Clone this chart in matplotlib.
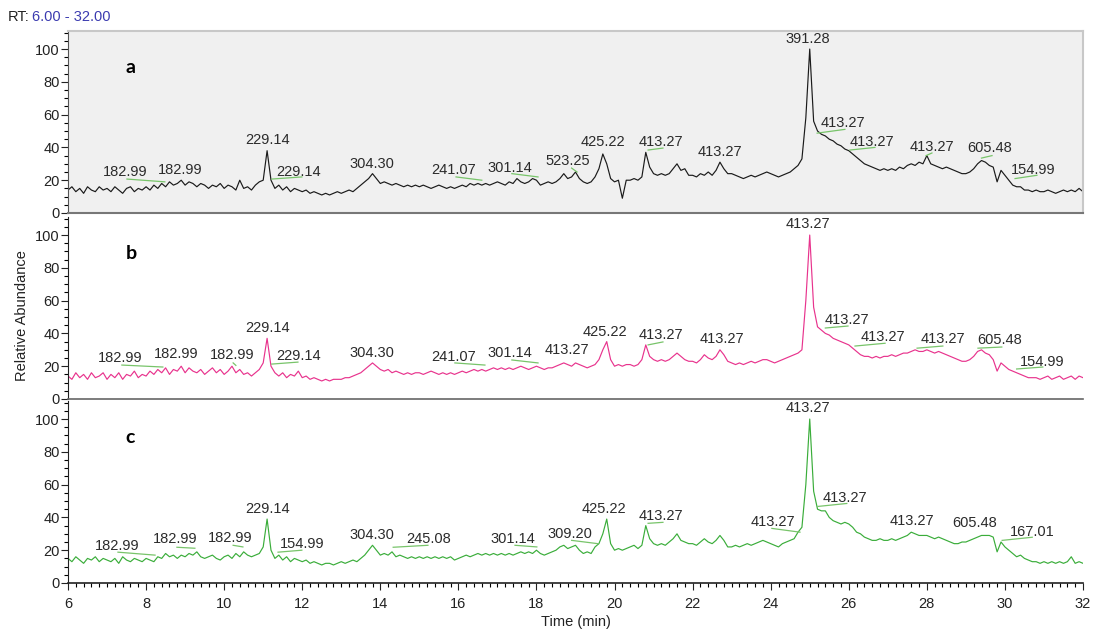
import numpy as np
import matplotlib
matplotlib.use('Agg')
import matplotlib.pyplot as plt
from matplotlib.ticker import MultipleLocator

plt.rcParams['font.family'] = ['Liberation Sans', 'DejaVu Sans']

# retention time grid, 0.1 min steps from 6 to 32
rt = np.round(np.arange(6.0, 32.05, 0.1), 1)

# relative abundance read every 0.1 min (one row = one minute)
trace_a = [
    14, 16, 13, 15, 12, 16, 14, 13, 16, 14,
    15, 13, 16, 14, 12, 15, 16, 13, 15, 14,
    16, 14, 17, 15, 18, 16, 19, 17, 18, 20,
    17, 19, 18, 16, 18, 17, 15, 17, 16, 18,
    15, 17, 16, 14, 20, 15, 16, 14, 17, 19,
    20, 38, 20, 15, 17, 14, 16, 13, 15, 14,
    13, 14, 12, 13, 12, 11, 12, 11, 12, 13,
    12, 13, 14, 13, 15, 17, 19, 21, 24, 21,
    18, 19, 18, 17, 18, 17, 16, 17, 16, 17,
    16, 17, 16, 15, 16, 17, 16, 15, 16, 15,
    16, 17, 16, 18, 17, 18, 17, 18, 17, 18,
    19, 18, 17, 19, 18, 21, 19, 18, 19, 21,
    20, 17, 18, 19, 18, 19, 21, 24, 21, 22,
    25, 21, 19, 18, 19, 22, 27, 36, 30, 21,
    19, 20, 9, 20, 20, 21, 20, 22, 37, 28,
    24, 23, 24, 23, 24, 27, 30, 26, 27, 23,
    23, 22, 24, 23, 25, 23, 26, 31, 27, 24,
    24, 23, 22, 21, 22, 23, 22, 23, 24, 25,
    24, 23, 22, 23, 24, 25, 27, 29, 33, 58,
    100, 56, 50, 48, 47, 45, 44, 42, 41, 39,
    38, 36, 34, 32, 30, 29, 28, 27, 26, 27,
    26, 27, 26, 28, 27, 29, 30, 29, 31, 30,
    35, 30, 29, 28, 27, 28, 27, 26, 25, 24,
    24, 25, 27, 30, 32, 31, 29, 28, 19, 26,
    23, 20, 17, 16, 16, 14, 14, 13, 14, 13,
    13, 14, 13, 12, 13, 14, 13, 14, 13, 15,
    13,
]
trace_b = [
    14, 12, 16, 13, 15, 12, 16, 13, 14, 16,
    12, 15, 13, 16, 12, 15, 14, 17, 13, 15,
    14, 17, 15, 18, 16, 19, 15, 18, 17, 20,
    16, 19, 17, 16, 18, 15, 17, 19, 16, 18,
    15, 17, 20, 16, 18, 15, 16, 14, 16, 18,
    22, 37, 20, 16, 14, 16, 13, 15, 14, 17,
    13, 14, 12, 13, 12, 11, 12, 11, 12, 12,
    12, 13, 13, 14, 15, 16, 18, 20, 22, 20,
    18, 17, 18, 16, 17, 16, 15, 16, 15, 16,
    16, 15, 16, 17, 16, 15, 16, 15, 16, 15,
    16, 17, 16, 17, 18, 17, 18, 17, 18, 19,
    18, 19, 18, 19, 18, 19, 20, 19, 18, 19,
    20, 19, 18, 19, 19, 20, 21, 22, 21, 20,
    22, 21, 20, 19, 20, 21, 24, 30, 35, 24,
    20, 21, 20, 21, 21, 20, 21, 24, 33, 26,
    24, 23, 24, 23, 24, 26, 28, 26, 24, 23,
    23, 22, 24, 27, 25, 24, 26, 30, 27, 23,
    22, 21, 22, 21, 22, 23, 22, 23, 24, 24,
    23, 22, 23, 24, 25, 26, 27, 28, 30, 60,
    100, 56, 44, 42, 40, 39, 37, 36, 35, 34,
    33, 31, 29, 27, 26, 26, 25, 26, 25, 26,
    26, 27, 26, 27, 28, 28, 29, 30, 29, 29,
    30, 29, 28, 29, 28, 27, 26, 25, 24, 23,
    23, 24, 26, 29, 30, 28, 27, 24, 17, 22,
    20, 18, 17, 16, 15, 14, 13, 13, 13, 12,
    13, 14, 12, 13, 14, 12, 13, 14, 12, 14,
    13,
]
trace_c = [
    15, 13, 16, 14, 12, 15, 14, 16, 13, 15,
    14, 13, 15, 12, 16, 14, 13, 15, 14, 13,
    15, 14, 13, 16, 15, 18, 16, 17, 15, 17,
    16, 18, 17, 19, 16, 15, 16, 17, 15, 14,
    16, 17, 15, 18, 16, 19, 17, 16, 17, 18,
    22, 39, 20, 15, 17, 14, 16, 13, 15, 14,
    13, 14, 12, 13, 12, 11, 12, 12, 11, 12,
    13, 12, 13, 14, 13, 15, 17, 20, 23, 20,
    17, 18, 17, 19, 16, 17, 16, 15, 16, 15,
    16, 15, 16, 15, 16, 15, 16, 15, 16, 14,
    15, 16, 17, 16, 17, 18, 17, 18, 17, 18,
    17, 18, 17, 18, 17, 18, 19, 18, 19, 18,
    20, 18, 17, 18, 19, 20, 22, 23, 21, 22,
    23, 20, 18, 19, 18, 22, 24, 30, 39, 24,
    20, 21, 20, 21, 22, 23, 21, 23, 35, 27,
    24, 23, 24, 23, 25, 27, 30, 26, 25, 24,
    24, 23, 25, 27, 25, 24, 26, 29, 26, 22,
    22, 23, 22, 23, 24, 23, 24, 25, 26, 25,
    24, 23, 22, 24, 25, 26, 27, 31, 34, 60,
    100, 56, 45, 44, 44, 40, 38, 37, 36, 37,
    36, 34, 31, 30, 28, 27, 26, 26, 27, 26,
    26, 27, 26, 27, 28, 29, 31, 30, 29, 29,
    29, 28, 27, 28, 27, 26, 25, 24, 24, 25,
    25, 26, 27, 28, 29, 29, 29, 28, 19, 25,
    22, 20, 18, 16, 17, 15, 14, 13, 13, 12,
    13, 12, 13, 12, 13, 12, 13, 16, 12, 13,
    12,
]

# peak m/z labels: (text, rt, abundance)
labels_a = [("182.99", 7.46, 25), ("182.99", 8.87, 26), ("229.14", 11.1, 44.5),
            ("229.14", 11.9, 25), ("304.30", 13.78, 30), ("241.07", 15.87, 26),
            ("301.14", 17.33, 27.5), ("523.25", 18.8, 31.7), ("425.22", 19.7, 43.5),
            ("413.27", 21.2, 43.5), ("413.27", 22.7, 37), ("391.28", 24.96, 106),
            ("413.27", 25.85, 55), ("413.27", 26.6, 43.5), ("413.27", 28.13, 40),
            ("605.48", 29.6, 39.5), ("154.99", 30.72, 26)]
labels_b = [("182.99", 7.33, 25), ("182.99", 8.76, 27.4), ("182.99", 10.2, 27),
            ("229.14", 11.1, 43.5), ("229.14", 11.9, 26), ("304.30", 13.78, 28),
            ("241.07", 15.87, 25.6), ("301.14", 17.33, 28), ("413.27", 18.78, 30),
            ("425.22", 19.76, 41), ("413.27", 21.2, 39), ("413.27", 22.75, 36.6),
            ("413.27", 24.96, 107), ("413.27", 25.95, 48), ("413.27", 26.87, 38),
            ("413.27", 28.41, 36.6), ("605.48", 29.87, 36), ("154.99", 30.95, 22.5)]
labels_c = [("182.99", 7.25, 22.4), ("182.99", 8.74, 26.6), ("182.99", 10.15, 27.3),
            ("229.14", 11.1, 45), ("154.99", 11.99, 24), ("304.30", 13.78, 29),
            ("245.08", 15.23, 26.6), ("301.14", 17.4, 26.6), ("309.20", 18.86, 29.7),
            ("425.22", 19.73, 45), ("413.27", 21.2, 41), ("413.27", 24.05, 37),
            ("413.27", 24.96, 106.7), ("413.27", 25.9, 52), ("413.27", 27.62, 38),
            ("605.48", 29.23, 36.4), ("167.01", 30.7, 31)]

# green leader lines from label to peak: (rt0, rt1, y0, y1)
leaders_a = [(7.51, 8.48, 20.7, 19), (11.22, 11.99, 20.7, 22), (15.94, 16.6, 22, 20),
             (17.37, 18.04, 24, 22), (18.9, 19.04, 27.4, 25), (20.86, 21.24, 38.4, 39.6),
             (25.19, 25.9, 48.7, 51), (26.03, 26.67, 38.4, 40), (27.98, 28.13, 35, 36.6),
             (29.4, 29.67, 33.5, 35), (30.26, 30.82, 21, 23)]
leaders_b = [(7.38, 8.43, 20.7, 19.5), (10.23, 10.3, 22, 20.5), (11.22, 11.89, 21.3, 22.5),
             (15.91, 16.68, 22, 20.7), (17.37, 18.04, 23.8, 22), (20.86, 21.24, 33, 34.8),
             (25.4, 25.98, 43.3, 44.5), (26.16, 26.93, 32.3, 34), (27.75, 28.41, 31, 32.3),
             (29.31, 29.92, 31, 31.7), (30.3, 30.97, 18.3, 19.5)]
leaders_c = [(7.28, 8.23, 18.8, 17), (8.79, 9.25, 21.8, 21.2), (10.23, 10.48, 23, 22),
             (11.38, 11.99, 18.8, 20), (14.33, 15.22, 21.8, 23), (17.45, 18.01, 23, 22),
             (18.9, 19.57, 26, 24), (20.86, 21.24, 36.4, 37), (24.03, 24.75, 33.3, 31),
             (25.21, 25.95, 46.7, 48.5), (29.93, 30.7, 26, 27.9)]

panels = [
    ("a", trace_a, labels_a, leaders_a, "#1a1a1a"),
    ("b", trace_b, labels_b, leaders_b, "#e8338d"),
    ("c", trace_c, labels_c, leaders_c, "#3aad3a"),
]

fig = plt.figure(figsize=(10.94, 6.32), dpi=100)
left, width, height = 68 / 1094, 1015 / 1094, 182 / 632
bottoms = [1 - 213 / 632, 1 - 399 / 632, 1 - 583 / 632]

for i, (name, tr, labs, leads, col) in enumerate(panels):
    ax = fig.add_axes([left, bottoms[i], width, height])
    ax.plot(rt, tr, color=col, lw=0.85)
    for x0, x1, y0, y1 in leads:
        ax.plot([x0, x1], [y0, y1], color="#78c46a", lw=0.9)
    for txt, x, y in labs:
        ax.text(x, y, txt, ha="center", va="center", fontsize=10.5, color="#2b2b2b")
    ax.text(0.057, 0.8, name, transform=ax.transAxes, fontsize=14,
            fontweight="bold", family=["Lato", "DejaVu Sans"], va="center")

    ax.set_xlim(6, 32)
    ax.set_ylim(0, 111)
    ax.yaxis.set_minor_locator(MultipleLocator(5))
    ax.set_yticks([0, 20, 40, 60, 80, 100])
    ax.tick_params(axis="y", which="major", direction="out", length=5, width=0.8,
                   labelsize=10.5, pad=1, colors="#222")
    ax.tick_params(axis="y", which="minor", direction="out", length=3, width=0.8)

    if name == "a":
        ax.set_facecolor("#f0f0f0")
        for s in ("top", "right"):
            ax.spines[s].set_color("#c8c8c8")
            ax.spines[s].set_linewidth(1.5)
        ax.spines["left"].set_color("#555555")
        ax.spines["bottom"].set_color("#777777")
        ax.spines["bottom"].set_linewidth(1.5)
    else:
        ax.patch.set_alpha(0)
        ax.spines["top"].set_visible(False)
        ax.spines["right"].set_visible(False)
        ax.spines["left"].set_color("#222")
        ax.spines["bottom"].set_color("#666666" if name == "b" else "#222")
        ax.spines["bottom"].set_linewidth(1.2)

    if name == "c":
        ax.xaxis.set_major_locator(MultipleLocator(2))
        ax.xaxis.set_minor_locator(MultipleLocator(0.2))
        ax.tick_params(axis="x", which="major", direction="out", length=5, width=0.8,
                       labelsize=10.5, pad=5, colors="#222")
        ax.tick_params(axis="x", which="minor", direction="out", length=3, width=0.8)
        ax.set_xlabel("Time (min)", fontsize=10.5, labelpad=3, color="#222")
    else:
        ax.tick_params(axis="x", which="both", bottom=False, labelbottom=False)

fig.text(22 / 1094, 0.5, "Relative Abundance", rotation=90, ha="center",
         va="center", fontsize=10.5, color="#222")
fig.text(8 / 1094, 1 - 17 / 632, "RT:", fontsize=10.5, va="center", color="#222")
fig.text(32 / 1094, 1 - 17 / 632, "6.00 - 32.00", fontsize=10.5, va="center",
         color="#3b3bb0")

fig.savefig("out.png", dpi=100)
